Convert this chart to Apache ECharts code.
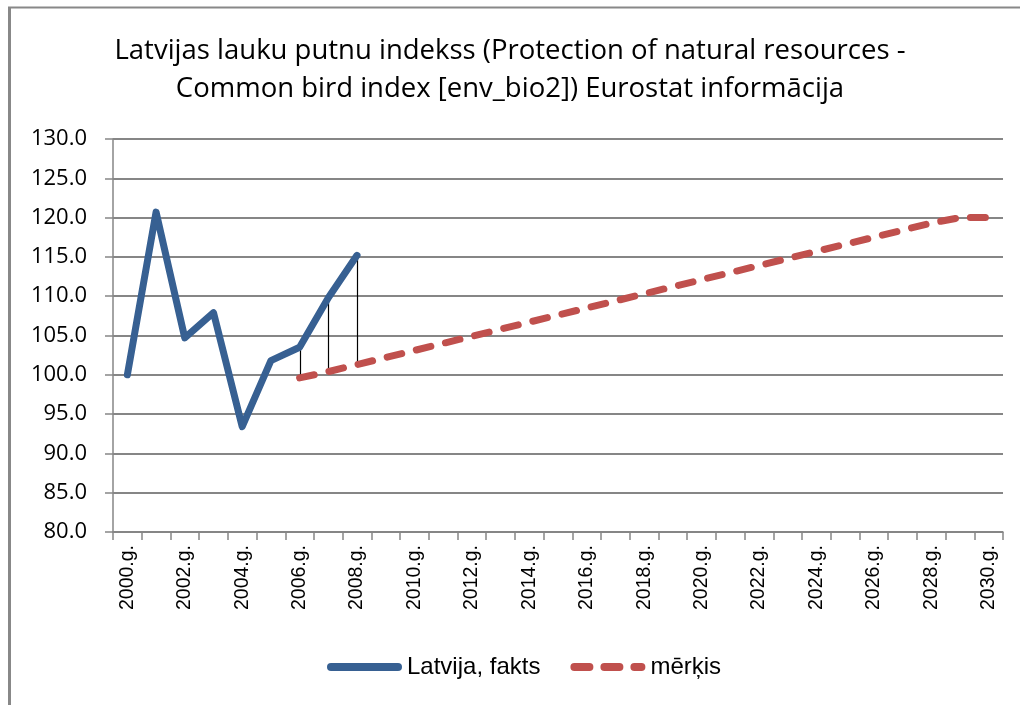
<!DOCTYPE html>
<html>
<head>
<meta charset="utf-8">
<title>Latvijas lauku putnu indekss</title>
<script src="https://cdn.jsdelivr.net/npm/echarts@6/dist/echarts.min.js"></script>
<style>
  html, body { margin: 0; padding: 0; background: #ffffff; }
  #chart { width: 1020px; height: 705px; }
</style>
</head>
<body>
<div id="chart"></div>
<script>
// Years shown on the category axis
const years = [];
for (let y = 2000; y <= 2030; y++) years.push(y + '.g.');

// Common bird index, Latvia (actual values)
const fakts = [100.0, 120.7, 104.7, 107.9, 93.4, 101.8, 103.5, 109.8, 115.2];

// Target path (starts in 2006)
const merkis = [null, null, null, null, null, null,
  99.6, 100.4, 101.3, 102.2, 103.1, 104.0, 104.9, 105.8, 106.7, 107.6,
  108.5, 109.4, 110.3, 111.2, 112.1, 113.0, 113.9, 114.8, 115.7, 116.6,
  117.5, 118.4, 119.3, 120.0, 120.0];

const seriesNames = ['Latvija, fakts', 'mērķis'];
const titleText = 'Latvijas lauku putnu indekss (Protection of natural resources -\nCommon bird index [env_bio2]) Eurostat informācija';

// High-low connectors for years where both series have a value
const highLow = [];
years.forEach((_, i) => {
  const a = fakts[i], b = merkis[i];
  if (a != null && b != null) highLow.push([i, Math.max(a, b), Math.min(a, b)]);
});

// Legend icons: a solid capsule and a dashed run of capsules
const iconSolid = 'path://M4,0H71A4,4 0 0 1 71,8H4A4,4 0 0 1 4,0Z';
const iconDashed = 'path://M4,0H19A4,4 0 0 1 19,8H4A4,4 0 0 1 4,0Z' +
  'M34,0H49A4,4 0 0 1 49,8H34A4,4 0 0 1 34,0Z' +
  'M64,0H71A4,4 0 0 1 71,8H64A4,4 0 0 1 64,0Z';

const chart = echarts.init(document.getElementById('chart'), null, { renderer: 'canvas' });

const gridColor = '#868686';
const uiFont = 'Open Sans';

chart.setOption({
  backgroundColor: '#ffffff',
  animation: false,
  title: {
    text: titleText,
    left: 'center',
    top: 27,
    textStyle: {
      fontFamily: uiFont,
      fontSize: 27.5,
      fontWeight: 'normal',
      color: '#000000',
      lineHeight: 38
    }
  },
  graphic: [
    { type: 'line', shape: { x1: 9.5, y1: 7, x2: 9.5, y2: 705 }, style: { stroke: '#888888', lineWidth: 3 } },
    { type: 'line', shape: { x1: 8, y1: 7.5, x2: 1020, y2: 7.5 }, style: { stroke: '#888888', lineWidth: 2 } }
  ],
  legend: {
    data: [
      { name: seriesNames[0], icon: iconSolid, itemStyle: { color: '#376092' } },
      { name: seriesNames[1], icon: iconDashed, itemStyle: { color: '#c0504d' } }
    ],
    bottom: 21,
    left: 322,
    itemWidth: 75,
    itemHeight: 8,
    itemGap: 30,
    textStyle: { fontFamily: 'Liberation Sans', fontSize: 24, color: '#000000', padding: [0, 0, 0, 0] }
  },
  grid: { left: 113, right: 17, top: 139, bottom: 173 },
  xAxis: {
    type: 'category',
    data: years,
    boundaryGap: true,
    axisLine: { lineStyle: { color: gridColor, width: 1.5 } },
    axisTick: { show: true, interval: 0, length: 8, lineStyle: { color: gridColor, width: 1.5 } },
    axisLabel: {
      interval: 1,
      rotate: 90,
      margin: 13,
      fontFamily: 'Liberation Sans',
      fontSize: 19.5,
      color: '#000000'
    },
    splitLine: { show: false }
  },
  yAxis: {
    type: 'value',
    min: 80,
    max: 130,
    interval: 5,
    axisLine: { show: true, lineStyle: { color: gridColor, width: 1.5 } },
    axisTick: { show: true, length: 8, lineStyle: { color: gridColor, width: 1.5 } },
    axisLabel: {
      margin: 26,
      fontFamily: uiFont,
      fontSize: 22,
      color: '#000000',
      formatter: v => v.toFixed(1)
    },
    splitLine: { show: true, lineStyle: { color: gridColor, width: 2 } }
  },
  series: [
    {
      name: seriesNames[0],
      type: 'line',
      data: fakts,
      symbol: 'none',
      z: 3,
      lineStyle: { color: '#376092', width: 7, cap: 'round', join: 'round' },
      itemStyle: { color: '#376092' }
    },
    {
      name: seriesNames[1],
      type: 'line',
      data: merkis,
      symbol: 'none',
      z: 3,
      lineStyle: { color: '#c0504d', width: 7, type: [15, 15], cap: 'round', join: 'round' },
      itemStyle: { color: '#c0504d' }
    },
    {
      type: 'custom',
      name: 'highLow',
      data: highLow,
      z: 2,
      silent: true,
      renderItem: (params, api) => {
        const top = api.coord([api.value(0), api.value(1)]);
        const bot = api.coord([api.value(0), api.value(2)]);
        return {
          type: 'line',
          shape: { x1: Math.round(top[0]) + 0.5, y1: top[1], x2: Math.round(bot[0]) + 0.5, y2: bot[1] },
          style: { stroke: '#000000', lineWidth: 1.2 }
        };
      }
    }
  ]
});
</script>
</body>
</html>
